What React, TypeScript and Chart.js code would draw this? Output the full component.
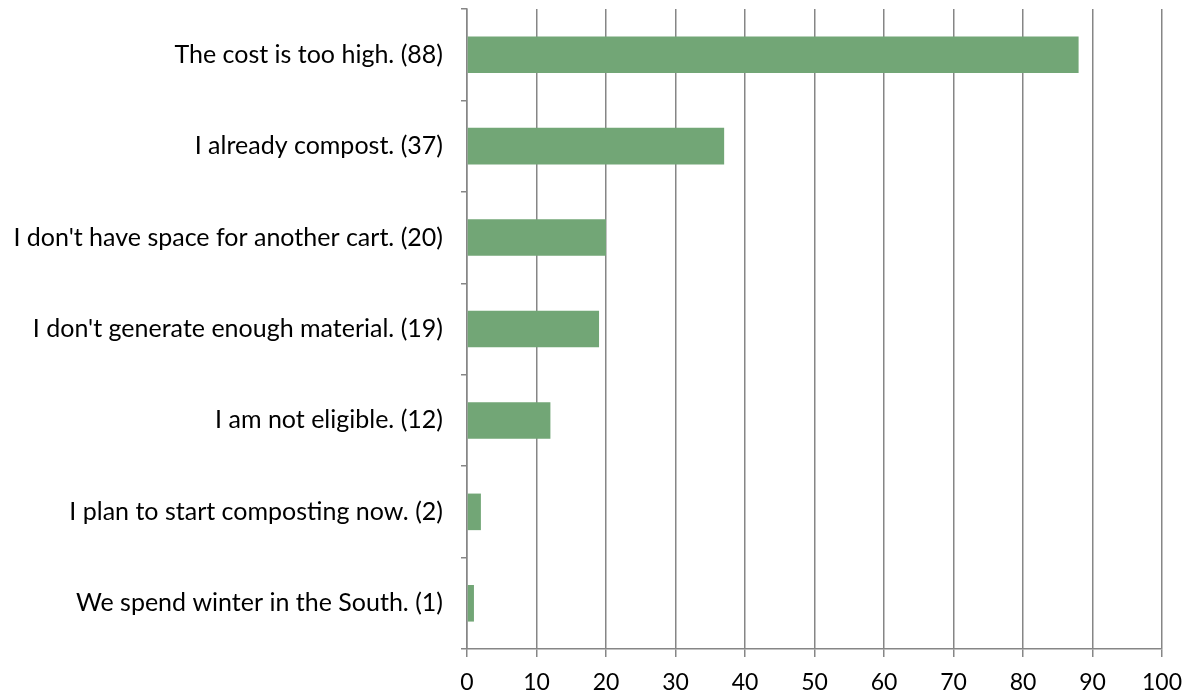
import React, { useEffect, useRef } from "react";
import { Chart, registerables } from "chart.js";

Chart.register(...registerables);

const categories = [
  "The cost is too high. (88)",
  "I already compost. (37)",
  "I don't have space for another cart. (20)",
  "I don't generate enough material. (19)",
  "I am not eligible. (12)",
  "I plan to start composting now. (2)",
  "We spend winter in the South. (1)",
];
const values = [88, 37, 20, 19, 12, 2, 1];
const xTicks = { min: 0, max: 100, step: 10 };

export default function App() {
  const ref = useRef<HTMLCanvasElement | null>(null);
  useEffect(() => {
    document.body.style.margin = "0";
    const ctx = ref.current!;
    const chart = new Chart(ctx, {
      type: "bar",
      data: {
        labels: categories,
        datasets: [
          {
            data: values,
            backgroundColor: "#72a676",
            borderWidth: 0,
            categoryPercentage: 1,
            barPercentage: 0.4,
          },
        ],
      },
      options: {
        indexAxis: "y",
        animation: false,
        responsive: false,
        maintainAspectRatio: false,
        layout: { padding: { top: 9, right: 21, bottom: 0, left: 0 } },
        plugins: { legend: { display: false }, tooltip: { enabled: false } },
        scales: {
          x: {
            min: xTicks.min,
            max: xTicks.max,
            ticks: {
              stepSize: xTicks.step,
              color: "#000",
              font: { family: "Lato", size: 23 },
              padding: 12,
            },
            grid: {
              color: "#868686",
              lineWidth: 1.5,
              tickLength: 8,
              drawTicks: true,
            },
            border: { color: "#868686", width: 1.5 },
            afterFit: (s: any) => {
              s.height = 47;
              s.paddingLeft = 0;
              s.paddingRight = 0;
            },
          },
          y: {
            ticks: {
              color: "#000",
              font: { family: "Lato", size: 25 },
              padding: 18,
            },
            grid: {
              drawOnChartArea: false,
              drawTicks: true,
              tickLength: 6,
              color: "#868686",
              lineWidth: 1.5,
            },
            border: { color: "#868686", width: 1.5 },
            afterFit: (s: any) => {
              s.width = 467;
              s.paddingTop = 0;
              s.paddingBottom = 0;
            },
          },
        },
      },
    });
    return () => chart.destroy();
  }, []);
  return <canvas ref={ref} width={1183} height={696} style={{ display: "block" }} />;
}
